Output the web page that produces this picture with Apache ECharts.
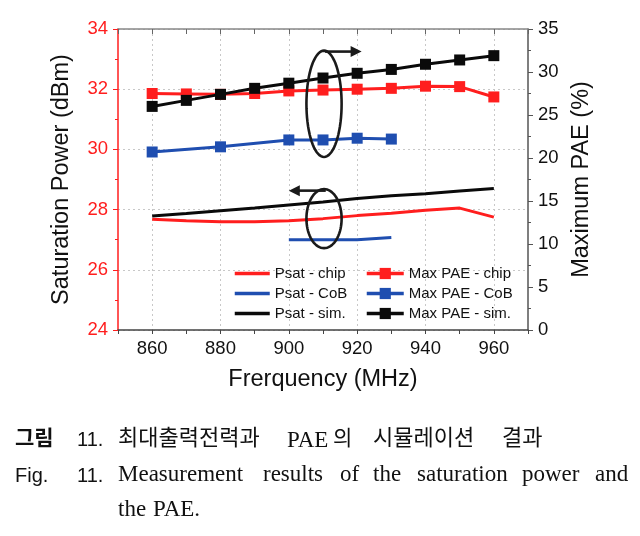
<!DOCTYPE html>
<html><head><meta charset="utf-8">
<script src="https://cdn.jsdelivr.net/npm/echarts@6/dist/echarts.min.js"></script>
<style>html,body{margin:0;padding:0;background:#fff}#c{width:640px;height:536px}</style>
</head><body><div id="c"></div>
<script>
// ---- data ----
const freq = [860, 870, 880, 890, 900, 910, 920, 930, 940, 950, 960];
const psatChip = [27.68, 27.63, 27.6, 27.6, 27.63, 27.7, 27.8, 27.88, 27.98, 28.05, 27.75];
const psatSim = [27.79, 27.87, 27.96, 28.05, 28.15, 28.25, 28.37, 28.46, 28.53, 28.62, 28.7];
const freqPsatCoB = [900, 910, 920, 930];
const psatCoB = [27.0, 27.0, 27.0, 27.07];
const paeChip = [27.5, 27.45, 27.4, 27.5, 27.8, 27.9, 28.0, 28.1, 28.35, 28.3, 27.1];
const paeSim = [26.0, 26.7, 27.4, 28.1, 28.7, 29.3, 29.85, 30.3, 30.9, 31.4, 31.9];
const freqPaeCoB = [860, 880, 900, 910, 920, 930];
const paeCoB = [20.7, 21.3, 22.1, 22.1, 22.3, 22.2];
const xLabelStep = 20;

const RED = '#ff1e1e', BLUE = '#1f4eb0', BLACK = '#0a0a0a';
const FONT = 'Liberation Sans';
const zip = (xs, ys) => xs.map((x, i) => [x, ys[i]]);

const chart = echarts.init(document.getElementById('c'), null, {renderer: 'canvas'});

const lineSeries = (name, xs, ys, color, yIdx, withSym) => ({
  name, type: 'line', xAxisIndex: 0, yAxisIndex: yIdx,
  data: zip(xs, ys),
  symbol: withSym ? 'rect' : 'none', symbolSize: 11, showSymbol: withSym,
  lineStyle: {color, width: 3},
  itemStyle: {color: withSym ? color : 'rgba(0,0,0,0)'},
  animation: false, z: withSym ? 3 : 2
});

const legendBase = {orient: 'vertical', top: 266, padding: 0, itemHeight: 14, itemGap: 5,
  lineStyle: {width: 3.5},
  textStyle: {fontSize: 15, lineHeight: 14, color: '#111', fontFamily: FONT}};

chart.setOption({
  animation: false,
  textStyle: {fontFamily: FONT},
  grid: {left: 118, right: 112, top: 29, bottom: 206},
  legend: [
    Object.assign({data: ['Psat - chip', 'Psat - CoB', 'Psat - sim.'], left: 233, itemWidth: 35}, legendBase),
    Object.assign({data: ['Max PAE - chip', 'Max PAE - CoB', 'Max PAE - sim.'], left: 365, itemWidth: 37}, legendBase)
  ],
  xAxis: [
    {type: 'value', min: 850, max: 970, interval: 10, position: 'bottom',
     name: 'Frerquency (MHz)', nameLocation: 'middle', nameGap: 38,
     nameTextStyle: {fontSize: 23.5, color: '#111', fontFamily: FONT},
     axisLine: {lineStyle: {color: '#444', width: 1.5}},
     axisTick: {show: true, inside: false, length: 4, lineStyle: {color: '#444'}},
     axisLabel: {fontSize: 18.5, color: '#111', margin: 9, fontFamily: FONT,
       formatter: v => (v % xLabelStep === 0 ? String(v) : '')},
     splitLine: {show: true, lineStyle: {color: ['rgba(0,0,0,0)', '#c8c8c8'], type: [2, 3], width: 1}}
    },
    {type: 'value', min: 850, max: 970, interval: 10, position: 'top',
     axisLine: {show: true, lineStyle: {color: '#888', width: 1.5}},
     axisTick: {show: true, inside: true, length: 5, lineStyle: {color: '#666'}},
     axisLabel: {show: false}, splitLine: {show: false}}
  ],
  yAxis: [
    {type: 'value', min: 24, max: 34, interval: 2, position: 'left',
     name: 'Saturation Power (dBm)', nameLocation: 'middle', nameGap: 44,
     nameTextStyle: {fontSize: 23.5, color: '#111', fontFamily: FONT},
     axisLine: {show: true, lineStyle: {color: RED, width: 1.5}},
     axisTick: {show: true, length: 5, lineStyle: {color: RED}},
     minorTick: {show: true, splitNumber: 2, length: 3, lineStyle: {color: RED}},
     axisLabel: {fontSize: 18.5, color: RED, margin: 10, fontFamily: FONT},
     splitLine: {show: true, lineStyle: {color: '#c8c8c8', type: [2, 3], width: 1}}
    },
    {type: 'value', min: 0, max: 35, interval: 5, position: 'right',
     name: 'Maximum PAE (%)', nameLocation: 'middle', nameGap: 39,
     nameTextStyle: {fontSize: 23.5, color: '#111', fontFamily: FONT},
     axisLine: {show: true, lineStyle: {color: '#555', width: 1.5}},
     axisTick: {show: true, length: 5, lineStyle: {color: '#555'}},
     minorTick: {show: true, splitNumber: 2, length: 3, lineStyle: {color: '#555'}},
     axisLabel: {fontSize: 18.5, color: '#111', margin: 10, fontFamily: FONT},
     splitLine: {show: false}
    }
  ],
  series: [
    lineSeries('Psat - chip', freq, psatChip, RED, 0, false),
    lineSeries('Psat - CoB', freqPsatCoB, psatCoB, BLUE, 0, false),
    lineSeries('Psat - sim.', freq, psatSim, BLACK, 0, false),
    lineSeries('Max PAE - chip', freq, paeChip, RED, 1, true),
    lineSeries('Max PAE - CoB', freqPaeCoB, paeCoB, BLUE, 1, true),
    lineSeries('Max PAE - sim.', freq, paeSim, BLACK, 1, true)
  ]
});

// ---- annotations (ellipses + arrows), anchored to data coords ----
const P = (x, y) => chart.convertToPixel({xAxisIndex: 0, yAxisIndex: 0}, [x, y]);
function ellipse(xc, yTop, yBot, xHalf) {
  const c = P(xc, (yTop + yBot) / 2), t = P(xc, yTop), b = P(xc, yBot), r = P(xc + xHalf, yTop);
  const rx = r[0] - c[0], ry = (b[1] - t[1]) / 2, pts = [];
  for (let i = 0; i < 72; i++) {
    const a = i / 72 * Math.PI * 2;
    pts.push([c[0] + rx * Math.cos(a), c[1] + ry * Math.sin(a)]);
  }
  return {type: 'polygon', shape: {points: pts}, style: {fill: 'none', stroke: '#1a1a1a', lineWidth: 2.6}, z: 10};
}
function arrow(x0, x1, y) {
  const a = P(x0, y), b = P(x1, y), dir = Math.sign(b[0] - a[0]);
  const head = 11, hw = 5.5;
  return [
    {type: 'line', shape: {x1: a[0], y1: a[1], x2: b[0] - dir * head * 0.8, y2: b[1]},
     style: {stroke: '#1a1a1a', lineWidth: 2.6}, z: 10},
    {type: 'polygon', shape: {points: [[b[0], b[1]], [b[0] - dir * head, b[1] - hw], [b[0] - dir * head, b[1] + hw]]},
     style: {fill: '#1a1a1a'}, z: 10}
  ];
}

const capSans = (t, x, y, size) => ({type: 'text', left: x, top: y - size * 0.6 + 5,
  style: {text: t, font: `${size}px "Liberation Sans"`, fill: '#111'}});
const capSerif = (t, x, y) => ({type: 'text', left: x, top: y - 10,
  style: {text: t, font: '23px "Liberation Serif"', fill: '#111'}});
const capKr = (t, x, y, size, weight) => ({type: 'text', left: x, top: y - size * 0.7 + 4,
  style: {text: t, font: `${weight || 'normal'} ${size}px "Noto Sans CJK KR"`, fill: '#111'}});

const graphics = [
  ellipse(910.3, 33.28, 29.75, 5.15),
  ...arrow(910.6, 921.3, 33.25),
  ellipse(910.3, 28.68, 26.72, 5.15),
  ...arrow(910.8, 900.0, 28.63),
  // caption line 1 (Korean)
  capKr('그림', 15, 437, 21, 'bold'),
  capSans('11.', 77, 437, 20),
  capKr('최대출력전력과', 118, 437, 22),
  capSerif('PAE', 287, 439),
  capKr('의', 333, 437, 21),
  capKr('시뮬레이션', 373, 437, 22),
  capKr('결과', 502, 437, 22),
  // caption line 2
  capSans('Fig.', 15, 473, 20),
  capSans('11.', 77, 473, 20),
  capSerif('Measurement', 118, 473),
  capSerif('results', 263, 473),
  capSerif('of', 340, 473),
  capSerif('the', 373, 473),
  capSerif('saturation', 417, 473),
  capSerif('power', 522, 473),
  capSerif('and', 595, 473),
  // caption line 3
  capSerif('the', 118, 508),
  capSerif('PAE.', 153, 508)
];
chart.setOption({graphic: graphics});
</script>
</body></html>
